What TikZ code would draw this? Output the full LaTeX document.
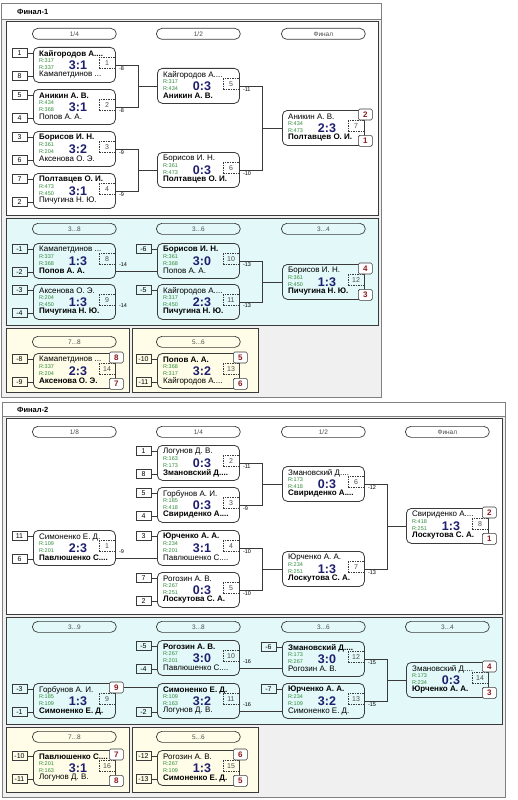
\documentclass[tikz,border=0pt]{standalone}
\usepackage{fontspec}
\setmainfont{Liberation Sans}
\usetikzlibrary{positioning, calc}
\definecolor{cdark}{HTML}{3A3A3A}
\definecolor{cframe}{HTML}{808080}
\definecolor{cgreybg}{HTML}{F0F0F0}
\definecolor{cblue}{HTML}{E3F8F8}
\definecolor{cyellow}{HTML}{FFFDE7}
\definecolor{cscore}{HTML}{1E1E6E}
\definecolor{crating}{HTML}{2E8B3A}
\definecolor{cplace}{HTML}{8B1A1A}
\tikzset{
  outer/.style={draw=cframe, fill=cgreybg, line width=0.8pt},
  panel/.style={draw=cdark, line width=0.8pt},
  title/.style={anchor=west, inner sep=0pt, font=\fontsize{7.5}{8}\selectfont\bfseries},
  pill/.style={draw=cdark, rounded corners=5.5pt, anchor=north west, minimum width=84pt, minimum height=11pt, inner sep=0pt, line width=0.7pt, text=black!70, font=\fontsize{6.5}{7}\selectfont},
  game/.style={draw=cdark, rounded corners=5pt, anchor=north west, minimum width=82pt, minimum height=35pt, inner sep=0pt, line width=0.8pt},
  plr/.style={anchor=west, inner sep=0pt, font=\fontsize{8}{9}\selectfont},
  rat/.style={anchor=west, inner sep=0pt, text=crating, font=\fontsize{5.5}{6}\selectfont},
  score/.style={inner sep=0pt, text=cscore, font=\fontsize{12.5}{13}\selectfont\bfseries},
  gameno/.style={draw=cdark, dash pattern=on 1.5pt off 1pt, line width=0.6pt, minimum width=16pt, minimum height=11pt, inner sep=0pt, text=black!70, font=\fontsize{7}{8}\selectfont},
  seed/.style={draw=cdark, line width=0.6pt, minimum width=15pt, minimum height=9pt, inner sep=0pt, font=\fontsize{7}{8}\selectfont},
  rank/.style={draw=cdark, fill=white, rounded corners=1.5pt, line width=0.6pt, minimum width=14pt, minimum height=11pt, inner sep=0pt, text=cplace, font=\fontsize{8}{9}\selectfont\bfseries},
  lose/.style={anchor=west, inner sep=0pt, font=\fontsize{5.5}{6}\selectfont},
  wire/.style={draw=cdark, line width=0.7pt},
}
\newcommand{\game}[9]{%
  \node[game] (#1) at (#2) {};
  \node[plr] (#1t) at ([shift={(6,7)}]#1.north west) {#3};
  \node[rat] (#1q1) at ([shift={(6,14)}]#1.north west) {#4};
  \node[rat] (#1q2) at ([shift={(6,21)}]#1.north west) {#5};
  \node[score] (#1x) at ([shift={(45,18)}]#1.north west) {#6};
  \node[gameno] (#1n) at ([shift={(74,16)}]#1.north west) {#7};
  \node[plr] (#1b) at ([shift={(6,28)}]#1.north west) {#8};
  \if\relax\detokenize{#9}\relax\else
    \node[lose] (#1l) at ([shift={(3,22)}]#1.north east) {#9};
  \fi
}
\newcommand{\seedtop}[2]{%
  \node[seed] (#1s1) at ([shift={(-13.5,6)}]#1.north west) {#2};
  \draw[wire] (#1s1.east) -- (#1s1.east -| #1.west);
}
\newcommand{\seedbot}[2]{%
  \node[seed] (#1s2) at ([shift={(-13.5,29)}]#1.north west) {#2};
  \draw[wire] (#1s2.east) -- (#1s2.east -| #1.west);
}
\newcommand{\ranktop}[2]{\node[rank] (#1r1) at ([shift={(0.5,4.5)}]#1.north east) {#2};}
\newcommand{\rankbot}[2]{\node[rank] (#1r2) at ([shift={(0.5,-5)}]#1.south east) {#2};}
\newcommand{\pairto}[3]{%
  \draw[wire] (#1.east) -- ++(23,0) coordinate (#1j) |- (#2.east);
  \draw[wire] (#1j |- #3.west) -- (#3.west);
}

\begin{document}
\begin{tikzpicture}[x=1pt, y=-1pt]
  \useasboundingbox (0,0) rectangle (517,800);
  % Финал-1
  \draw[outer] (1,3) rectangle (381,397);
  \draw[outer, fill=white] (1,3) rectangle (381,19);
  \node[title] (fin1) at (17,12) {Финал-1};
  \draw[panel, fill=white] (6,21) rectangle (378,215);
  \draw[panel, fill=cblue] (6,218) rectangle (378,325);
  \draw[panel, fill=cyellow] (6,328) rectangle (129,392);
  \draw[panel, fill=cyellow] (132,328) rectangle (258,392);
  \node[pill] (ah1) at (32,28) {1/4};
  \node[pill] (ah2) at (156,28) {1/2};
  \node[pill] (ah3) at (281,28) {Финал};
  \node[pill] (ah4) at (32,223) {3...8};
  \node[pill] (ah5) at (156,223) {3...6};
  \node[pill] (ah6) at (281,223) {3...4};
  \node[pill] (ah7) at (32,336) {7...8};
  \node[pill] (ah8) at (156,336) {5...6};

  \game{a1}{33,47}{\bfseries Кайгородов А....}{R:317}{R:337}{3:1}{1}{Камапетдинов ...}{-8}
  \game{a2}{33,89}{\bfseries Аникин А. В.}{R:434}{R:368}{3:1}{2}{Попов А. А.}{-8}
  \game{a3}{33,131}{\bfseries Борисов И. Н.}{R:361}{R:204}{3:2}{3}{Аксенова О. Э.}{-9}
  \game{a4}{33,173}{\bfseries Полтавцев О. И.}{R:473}{R:450}{3:1}{4}{Пичугина Н. Ю.}{-9}
  \game{a5}{157,68}{Кайгородов А....}{R:317}{R:434}{0:3}{5}{\bfseries Аникин А. В.}{-11}
  \game{a6}{157,152}{Борисов И. Н.}{R:361}{R:473}{0:3}{6}{\bfseries Полтавцев О. И.}{-10}
  \game{a7}{282,110}{Аникин А. В.}{R:434}{R:473}{2:3}{7}{\bfseries Полтавцев О. И.}{}
  \game{a8}{33,243}{Камапетдинов ...}{R:337}{R:368}{1:3}{8}{\bfseries Попов А. А.}{-14}
  \game{a9}{33,284}{Аксенова О. Э.}{R:204}{R:450}{1:3}{9}{\bfseries Пичугина Н. Ю.}{-14}
  \game{a10}{157,243}{\bfseries Борисов И. Н.}{R:361}{R:368}{3:0}{10}{Попов А. А.}{-13}
  \game{a11}{157,284}{Кайгородов А....}{R:317}{R:450}{2:3}{11}{\bfseries Пичугина Н. Ю.}{-13}
  \game{a12}{282,264}{Борисов И. Н.}{R:361}{R:450}{1:3}{12}{\bfseries Пичугина Н. Ю.}{}
  \game{a14}{33,353}{Камапетдинов ...}{R:337}{R:204}{2:3}{14}{\bfseries Аксенова О. Э.}{}
  \game{a13}{157,353}{\bfseries Попов А. А.}{R:368}{R:317}{3:2}{13}{Кайгородов А....}{}

  \seedtop{a1}{1}  \seedbot{a1}{8}
  \seedtop{a2}{5}  \seedbot{a2}{4}
  \seedtop{a3}{3}  \seedbot{a3}{6}
  \seedtop{a4}{7}  \seedbot{a4}{2}
  \seedtop{a8}{-1} \seedbot{a8}{-2}
  \seedtop{a9}{-3} \seedbot{a9}{-4}
  \seedtop{a10}{-6}
  \seedtop{a11}{-5}
  \seedtop{a14}{-8} \seedbot{a14}{-9}
  \seedtop{a13}{-10} \seedbot{a13}{-11}
  \ranktop{a7}{2}  \rankbot{a7}{1}
  \ranktop{a12}{4} \rankbot{a12}{3}
  \ranktop{a14}{8} \rankbot{a14}{7}
  \ranktop{a13}{5} \rankbot{a13}{6}

  \pairto{a1}{a2}{a5}
  \pairto{a3}{a4}{a6}
  \pairto{a5}{a6}{a7}
  \pairto{a10}{a11}{a12}
  \draw[wire] (a8.east |- a8b) -- (a10.west |- a8b);

  % Финал-2
  \draw[outer] (2,402) rectangle (505,797);
  \draw[outer, fill=white] (2,402) rectangle (505,416);
  \node[title] (fin2) at (17,409.5) {Финал-2};
  \draw[panel, fill=white] (6,418) rectangle (502,614);
  \draw[panel, fill=cblue] (6,617) rectangle (502,724);
  \draw[panel, fill=cyellow] (6,727) rectangle (129,792);
  \draw[panel, fill=cyellow] (132,727) rectangle (258,792);
  \node[pill] (bh1) at (32,426) {1/8};
  \node[pill] (bh2) at (156,426) {1/4};
  \node[pill] (bh3) at (281,426) {1/2};
  \node[pill] (bh4) at (405,426) {Финал};
  \node[pill] (bh5) at (32,621) {3...9};
  \node[pill] (bh6) at (156,621) {3...8};
  \node[pill] (bh7) at (281,621) {3...6};
  \node[pill] (bh8) at (405,621) {3...4};
  \node[pill] (bh9) at (32,731) {7...8};
  \node[pill] (bh10) at (156,731) {5...6};

  \game{b1}{33,530}{Симоненко Е. Д.}{R:109}{R:201}{2:3}{1}{\bfseries Павлюшенко С....}{-9}
  \game{b2}{157,445}{Логунов Д. В.}{R:163}{R:173}{0:3}{2}{\bfseries Змановский Д....}{-11}
  \game{b3}{157,487}{Горбунов А. И.}{R:185}{R:418}{0:3}{3}{\bfseries Свириденко А....}{-9}
  \game{b4}{157,530}{\bfseries Юрченко А. А.}{R:234}{R:201}{3:1}{4}{Павлюшенко С....}{-10}
  \game{b5}{157,572}{Рогозин А. В.}{R:267}{R:251}{0:3}{5}{\bfseries Лоскутова С. А.}{-10}
  \game{b6}{282,466}{Змановский Д....}{R:173}{R:418}{0:3}{6}{\bfseries Свириденко А....}{-12}
  \game{b7}{282,551}{Юрченко А. А.}{R:234}{R:251}{1:3}{7}{\bfseries Лоскутова С. А.}{-13}
  \game{b8}{406,508}{Свириденко А....}{R:418}{R:251}{1:3}{8}{\bfseries Лоскутова С. А.}{}
  \game{b9}{33,683}{Горбунов А. И.}{R:185}{R:109}{1:3}{9}{\bfseries Симоненко Е. Д.}{}
  \game{b10}{157,640}{\bfseries Рогозин А. В.}{R:267}{R:201}{3:0}{10}{Павлюшенко С....}{-16}
  \game{b11}{157,683}{\bfseries Симоненко Е. Д.}{R:109}{R:163}{3:2}{11}{Логунов Д. В.}{-16}
  \game{b12}{282,641}{\bfseries Змановский Д....}{R:173}{R:267}{3:0}{12}{Рогозин А. В.}{-15}
  \game{b13}{282,683}{\bfseries Юрченко А. А.}{R:234}{R:109}{3:2}{13}{Симоненко Е. Д.}{-15}
  \game{b14}{406,662}{Змановский Д....}{R:173}{R:234}{0:3}{14}{\bfseries Юрченко А. А.}{}
  \game{b16}{33,750}{\bfseries Павлюшенко С....}{R:201}{R:163}{3:1}{16}{Логунов Д. В.}{}
  \game{b15}{157,750}{Рогозин А. В.}{R:267}{R:109}{1:3}{15}{\bfseries Симоненко Е. Д.}{}

  \seedtop{b1}{11} \seedbot{b1}{6}
  \seedtop{b2}{1}  \seedbot{b2}{8}
  \seedtop{b3}{5}  \seedbot{b3}{4}
  \seedtop{b4}{3}
  \seedtop{b5}{7}  \seedbot{b5}{2}
  \seedtop{b9}{-3} \seedbot{b9}{-1}
  \seedtop{b10}{-5} \seedbot{b10}{-4}
  \seedbot{b11}{-2}
  \seedtop{b12}{-6}
  \seedtop{b13}{-7}
  \seedtop{b16}{-10} \seedbot{b16}{-11}
  \seedtop{b15}{-12} \seedbot{b15}{-13}
  \ranktop{b8}{2}  \rankbot{b8}{1}
  \ranktop{b14}{4} \rankbot{b14}{3}
  \ranktop{b16}{7} \rankbot{b16}{8}
  \ranktop{b15}{6} \rankbot{b15}{5}
  \ranktop{b9}{9}

  \pairto{b2}{b3}{b6}
  \pairto{b4}{b5}{b7}
  \pairto{b6}{b7}{b8}
  \pairto{b12}{b13}{b14}
  \draw[wire] (b1.east |- b1b) -- (b4.west |- b1b);
  \draw[wire] (b9r1.east) -- (b9r1.east -| b11.west);
  \draw[wire] (b10.east |- b10b) -- (b12.west |- b10b);
  \draw[wire] (b11.east |- b11b) -- (b13.west |- b11b);
\end{tikzpicture}
\end{document}
